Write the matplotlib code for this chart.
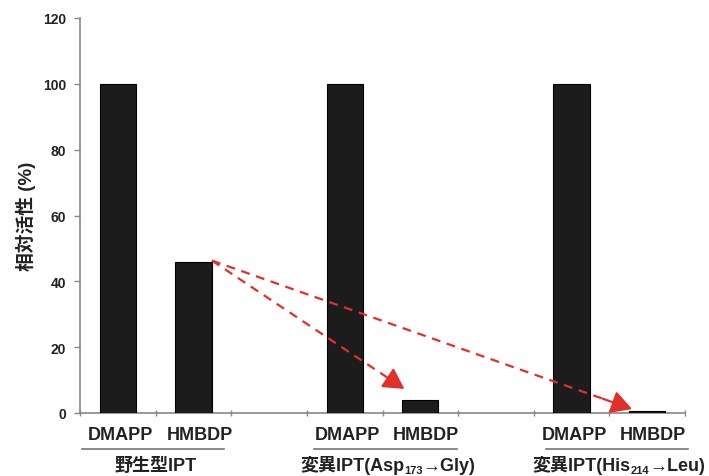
import matplotlib
matplotlib.use("Agg")
import matplotlib.pyplot as plt
from matplotlib.lines import Line2D
from matplotlib.transforms import IdentityTransform

plt.rcParams['font.family'] = ['Liberation Sans', 'Noto Sans CJK JP', 'DejaVu Sans']

# data
categories = ["DMAPP", "HMBDP", "", "DMAPP", "HMBDP", "", "DMAPP", "HMBDP"]
values = [100, 46, None, 100, 4.1, None, 100, 0.6]
groups = [
    [("野生型IPT", 13, 0)],
    [("変異IPT(Asp", 13, 0), ("173", 8, -3), ("→Gly)", 13, 0)],
    [("変異IPT(His", 13, 0), ("214", 8, -3), ("→Leu)", 13, 0)],
]
group_centers = [0.5, 3.57, 6.63]
yticks = [0, 20, 40, 60, 80, 100, 120]
ylabel = "相対活性 (%)"

fig = plt.figure(figsize=(7.09, 4.77), dpi=100)
ax = fig.add_axes([80/709, 1-414/477, (685-80)/709, (414-19)/477])

xs = [i for i, v in enumerate(values) if v is not None]
vs = [v for v in values if v is not None]
ax.bar(xs, vs, width=0.48, color="#1c1c1c", edgecolor="#000000", linewidth=0.8, zorder=3)

ax.set_xlim(-0.5, 7.5)
ax.set_ylim(0, 120)
ax.set_yticks(yticks)
ax.set_yticklabels([str(t) for t in yticks], fontsize=10, fontweight='bold', color="#222222")
ax.set_xticks([i - 0.5 for i in range(9)])
ax.set_xticklabels([])
ax.tick_params(axis='y', direction='out', length=4, color="#888888", width=1, pad=6)
ax.tick_params(axis='x', direction='inout', length=4, color="#888888", width=1)
for s in ['top', 'right']:
    ax.spines[s].set_visible(False)
for s in ['left', 'bottom']:
    ax.spines[s].set_color("#888888")
    ax.spines[s].set_linewidth(1.2)

ax.set_ylabel(ylabel, fontsize=13.5, fontweight='bold', labelpad=5, color="#222222")

trans = ax.get_xaxis_transform()
for i, c in enumerate(categories):
    if c:
        off = 0.04 if c == "DMAPP" else 0.08
        ax.text(i + off, -0.055, c, transform=trans, ha='center', va='center',
                fontsize=13, fontweight='bold', color="#222222")

fig.canvas.draw()
renderer = fig.canvas.get_renderer()
for gc, parts in zip(group_centers, groups):
    ax.add_line(Line2D([gc - 0.97, gc + 0.91], [-0.091, -0.091], transform=trans,
                       color="#777777", lw=1.2, clip_on=False))
    texts = []
    for s, size, dy in parts:
        t = fig.text(0, 0, s, fontsize=size, fontweight='bold', color="#222222",
                     ha='left', va='baseline', transform=IdentityTransform())
        texts.append(t)
    widths = [t.get_window_extent(renderer).width for t in texts]
    total = sum(widths)
    xd, yd = trans.transform((gc, -0.13))
    x = xd - total / 2
    base = yd - 6
    for t, w, (s, size, dy) in zip(texts, widths, parts):
        t.set_position((x, base + dy))
        x += w

red = "#e0302a"
start = (1.245, 46.3)
for tip in [(3.79, 7.3), (6.80, 1.2)]:
    f = 0.07
    mid = (tip[0] - f * (tip[0] - start[0]), tip[1] - f * (tip[1] - start[1]))
    ax.plot([start[0], mid[0]], [start[1], mid[1]], color=red, lw=1.6,
            linestyle=(0, (4, 3)), zorder=4, solid_capstyle='butt')
    ax.annotate("", xy=tip, xytext=mid,
                arrowprops=dict(arrowstyle='-|>,head_length=0.9,head_width=0.5',
                                color=red, lw=1.6, shrinkA=0, shrinkB=0, mutation_scale=14),
                zorder=4)

fig.savefig("out.png", dpi=100)
